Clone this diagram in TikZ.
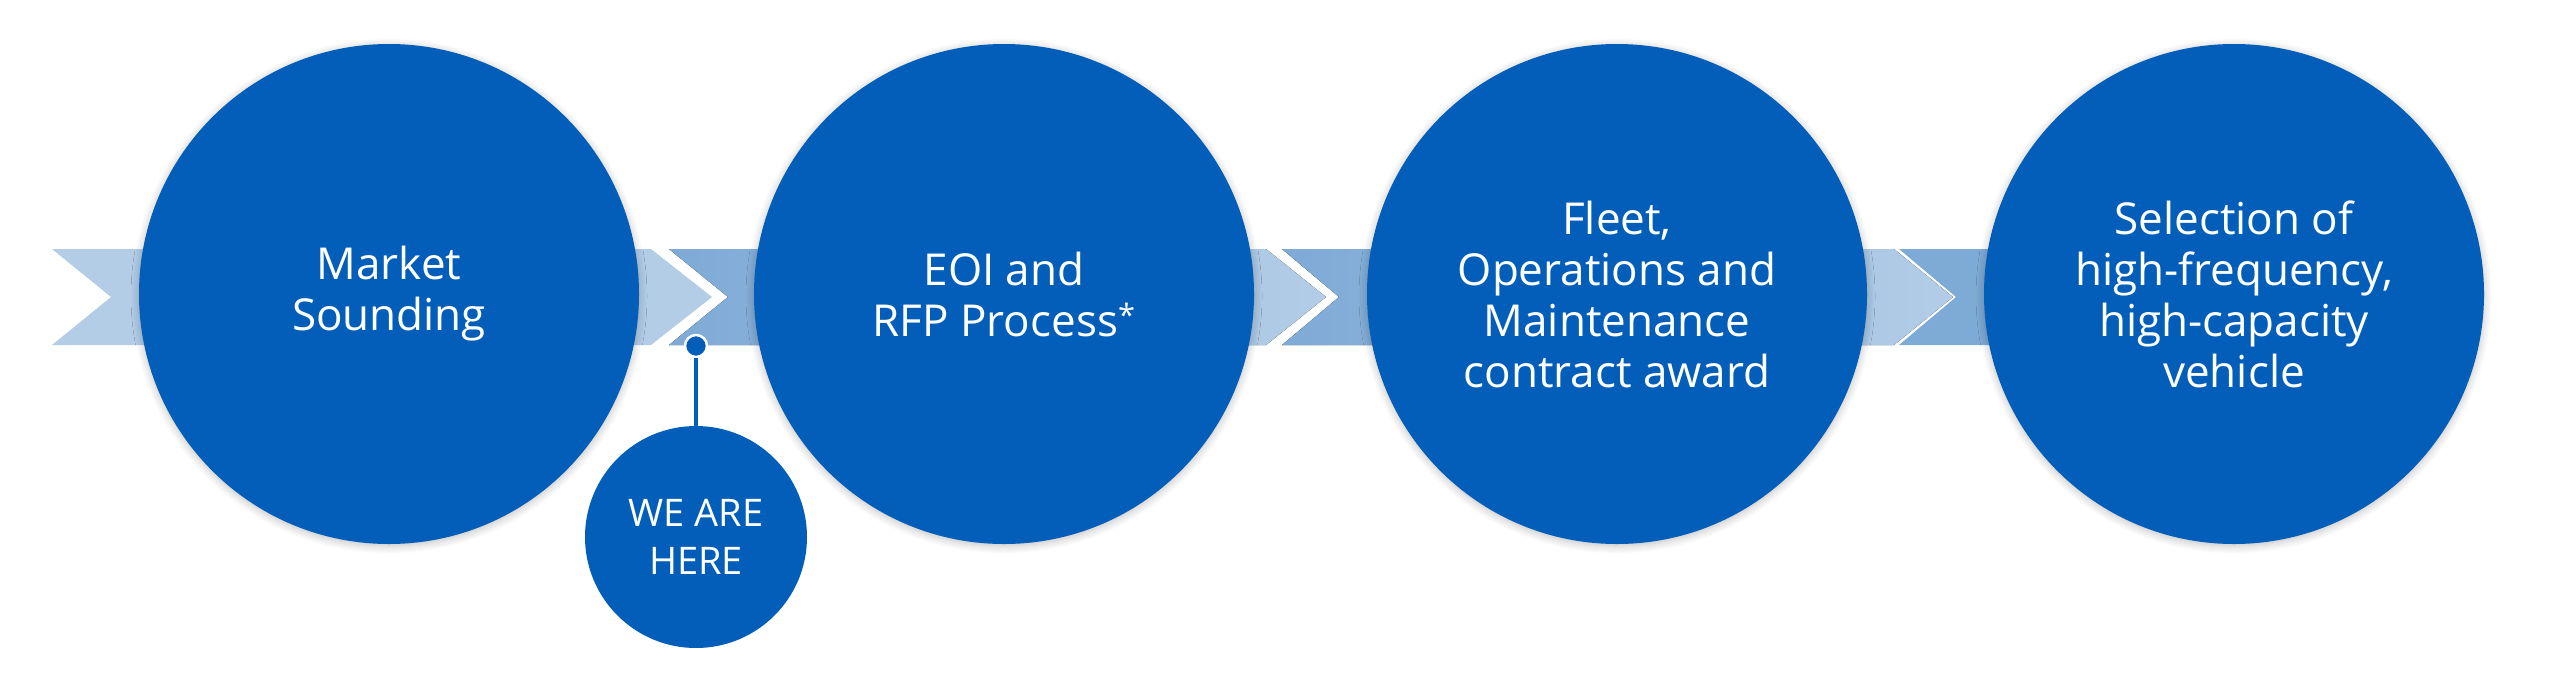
\documentclass[tikz,border=0pt]{standalone}
\usepackage{fontspec}
\setmainfont{Open Sans}
\usetikzlibrary{shadows.blur}
\definecolor{cblue}{HTML}{025EB8}
\definecolor{rlight}{HTML}{B3CDE7}
\definecolor{rdark}{HTML}{7EAAD6}
\tikzset{
  stage/.style={circle,fill=cblue,minimum size=500pt,inner sep=0pt,text=white,align=center,
    font=\fontsize{44}{51}\selectfont,blur shadow={shadow blur steps=8,shadow xshift=0pt,shadow yshift=-2pt,shadow opacity=25,shadow blur radius=8pt}},
  seg/.style={left color=rdark,right color=rlight}
}
\begin{document}
\begin{tikzpicture}[x=1pt,y=-1pt]
\useasboundingbox (0,0) rectangle (2560,689);
% ribbon
\fill[rlight] (52,249) -- (651,249) -- (712,297) -- (651,345) -- (52,345) -- (111,297) -- cycle;
\fill[seg] (669,249) -- (1266,249) -- (1326,297) -- (1266,345) -- (669,345) -- (728,297) -- cycle;
\fill[seg] (1282,249) -- (1894,249) -- (1953,297) -- (1894,345) -- (1282,345) -- (1339,297) -- cycle;
\fill[rdark] (1899,249) -- (2240,249) -- (2240,345) -- (1899,345) -- (1956,297) -- cycle;
% stages
\node[stage] (s1) at (389,294) {Market\\Sounding};
\node[stage] (s2) at (1004,294) {EOI and\\RFP Process\textsuperscript{*}};
\node[stage] (s3) at (1617,294) {Fleet,\\Operations and\\Maintenance\\contract award};
\node[stage] (s4) at (2234,294) {Selection of\\high-frequency,\\high-capacity\\vehicle};
% we are here
\node[circle,fill=cblue,minimum size=222pt,inner sep=0pt,text=white,align=center,font=\fontsize{38}{48}\selectfont] (here) at (696,537) {WE ARE\\HERE};
\node[circle,fill=cblue,draw=white,line width=2.5pt,minimum size=22pt,inner sep=0pt] (pin) at (696,346) {};
\draw[cblue,line width=4pt] (pin.south) -- (here.north);
\end{tikzpicture}
\end{document}
